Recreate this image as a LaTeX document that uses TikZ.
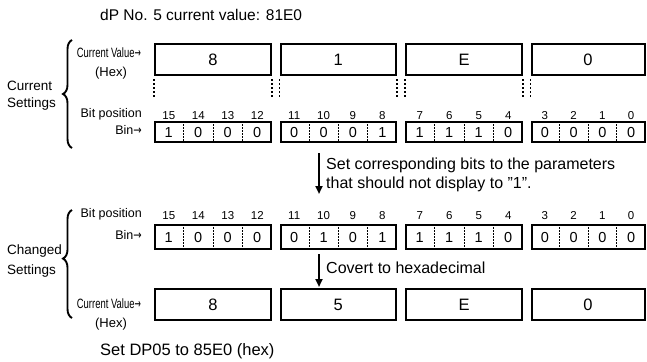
\documentclass[tikz,border=0pt]{standalone}
\usepackage{fontspec}
\setmainfont{Liberation Sans}
\newfontfamily\arrowfont{DejaVu Sans}
\newcommand{\rarr}{{\arrowfont\scalebox{0.8}[1]{→}}}
\usetikzlibrary{arrows.meta,decorations.pathreplacing,calc}
\begin{document}
\begin{tikzpicture}[x=1pt,y=-1pt,
  box/.style={draw,line width=2pt,rectangle,inner sep=0pt},
  hexd/.style={font=\fontsize{16.5}{18}\selectfont},
  bind/.style={font=\fontsize{14.5}{16}\selectfont,inner sep=0pt,anchor=base},
  bitn/.style={font=\fontsize{11.5}{13}\selectfont,inner sep=0pt,anchor=base},
  lbl/.style={font=\fontsize{12.5}{14}\selectfont,inner sep=0pt},
  cvlbl/.style={font=\fontsize{13.5}{15}\selectfont,inner sep=0pt,xscale=0.7},
  side/.style={font=\fontsize{13.5}{16}\selectfont,inner sep=0pt,anchor=mid west},
  txt/.style={font=\fontsize{16}{18}\selectfont,inner sep=0pt,anchor=mid west},
  divd/.style={line width=0.7pt,dash pattern=on 1.5pt off 1.5pt},
  guide/.style={line width=1.2pt,dash pattern=on 2pt off 2pt},
  arr/.style={line width=2pt,-{Triangle[length=8pt,width=7pt]}},
  brc/.style={line width=1.9pt,decorate,decoration={brace,amplitude=9pt}}
]
\useasboundingbox (0,0) rectangle (647,361);

% titles
\node[txt,font=\fontsize{15.5}{18}\selectfont] (title) at (100,18) {dP No. 5 current value: 81E0};
\node[txt,font=\fontsize{16.5}{18}\selectfont] (foot) at (100,353) {Set DP05 to 85E0 (hex)};

% side labels and braces
\node[side] (cs1) at (7,88) {Current};
\node[side] (cs2) at (7,105) {Settings};
\node[side] (ch1) at (7,252) {Changed};
\node[side] (ch2) at (7,272) {Settings};
\coordinate (br1b) at (72,148);
\coordinate (br1t) at (72,40);
\coordinate (br2b) at (72,318);
\coordinate (br2t) at (72,210);
\draw[brc,decoration={aspect=0.5}] (br1b) -- (br1t);
\draw[brc,decoration={aspect=0.55}] (br2b) -- (br2t);

% row labels
\node[cvlbl,anchor=mid east] (cv1) at (141,55) {Current Value\rarr};
\node[lbl,font=\fontsize{13}{15}\selectfont] (hx1) at (111,73) {(Hex)};
\node[lbl,anchor=mid east] (bp1) at (142,115) {Bit position};
\node[lbl,anchor=mid east] (bn1) at (142,132) {Bin\rarr};
\node[lbl,anchor=mid east] (bp2) at (142,215) {Bit position};
\node[lbl,anchor=mid east] (bn2) at (142,237) {Bin\rarr};
\node[cvlbl,anchor=mid east] (cv2) at (141,306) {Current Value\rarr};
\node[lbl,font=\fontsize{13}{15}\selectfont] (hx2) at (111,324) {(Hex)};

% boxes
\foreach \i/\l/\w/\ha/\hb/\da/\db/\dc/\dd/\ea/\eb/\ec/\ed in
  {0/154/118/8/8/1/0/0/0/1/0/0/0,
   1/279.5/117.5/1/5/0/0/0/1/0/1/0/1,
   2/405/118/E/E/1/1/1/0/1/1/1/0,
   3/530.5/115/0/0/0/0/0/0/0/0/0/0}{
  % hex boxes
  \node[box,hexd,minimum width=\w pt-2pt,minimum height=31pt] (h\i) at (\l+\w/2,59.5) {\ha};
  \node[box,hexd,minimum width=\w pt-2pt,minimum height=31pt] (k\i) at (\l+\w/2,304.5) {\hb};
  % bin boxes
  \node[box,minimum width=\w pt-2pt,minimum height=20pt] (b\i) at (\l+\w/2,132) {};
  \node[box,minimum width=\w pt-2pt,minimum height=24pt] (c\i) at (\l+\w/2,237) {};
  \foreach \k in {1,2,3}{
    \draw[divd] ($(b\i.north west)!\k/4!(b\i.north east)$) -- ($(b\i.south west)!\k/4!(b\i.south east)$);
    \draw[divd] ($(c\i.north west)!\k/4!(c\i.north east)$) -- ($(c\i.south west)!\k/4!(c\i.south east)$);
  }
  \foreach \k/\d/\e in {1/\da/\ea,2/\db/\eb,3/\dc/\ec,4/\dd/\ed}{
    \pgfmathtruncatemacro{\bit}{16-4*\i-\k}
    \node[bind] (bd\i\k) at (\l+\w*\k/4-\w/8,137.2) {\d};
    \node[bind] (cd\i\k) at (\l+\w*\k/4-\w/8,242.2) {\e};
    \node[bitn] (bpa\i\k) at (\l+\w*\k/4-\w/8,119.1) {\bit};
    \node[bitn] (bpb\i\k) at (\l+\w*\k/4-\w/8,219.1) {\bit};
  }
}

% guide dotted lines under top hex boxes
\foreach \n in {h0,h1,h2}{
  \draw[guide] ($(\n.south west)+(0,3)$) -- ($(\n.south west)+(0,22)$);
  \draw[guide] ($(\n.south east)+(0,3)$) -- ($(\n.south east)+(0,22)$);
}
\draw[guide] ($(h3.south west)+(0,3)$) -- ($(h3.south west)+(0,22)$);

% arrows
\coordinate (a1s) at (319,153);
\coordinate (a1e) at (319,194);
\coordinate (a2s) at (319,254);
\coordinate (a2e) at (319,287);
\draw[arr] (a1s) -- (a1e);
\draw[arr] (a2s) -- (a2e);
\node[txt] (t1) at (326,167) {Set corresponding bits to the parameters};
\node[txt] (t2) at (326,186) {that should not display to \symbol{34}1\symbol{34}.};
\node[txt] (t3) at (326,271) {Covert to hexadecimal};
\end{tikzpicture}
\end{document}
